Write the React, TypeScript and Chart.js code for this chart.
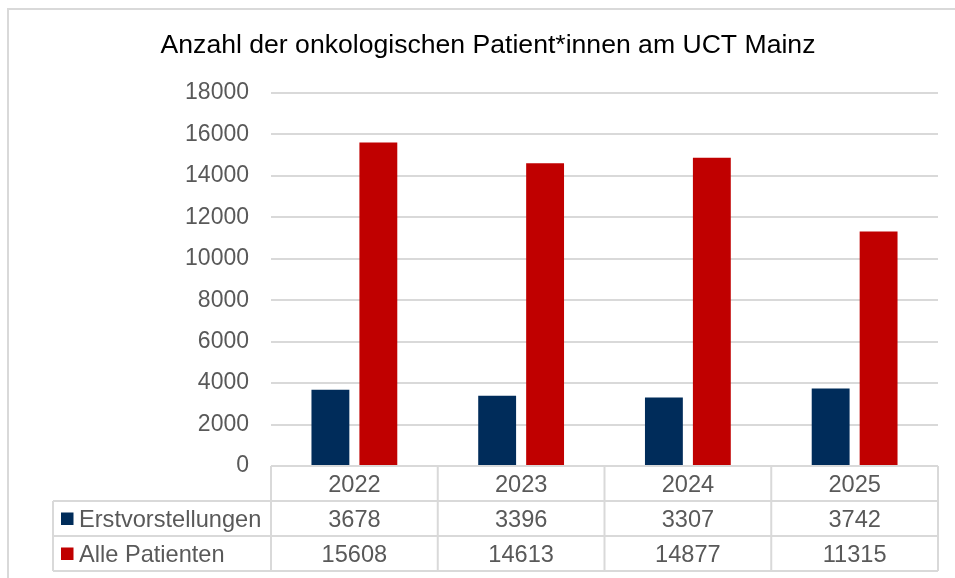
import React, { useEffect, useRef } from "react";
import { Chart, registerables } from "chart.js";

Chart.register(...registerables);

const title = "Anzahl der onkologischen Patient*innen am UCT Mainz";
const categories = ["2022", "2023", "2024", "2025"];
const seriesNames = ["Erstvorstellungen", "Alle Patienten"];
const erstvorstellungen = [3678, 3396, 3307, 3742];
const allePatienten = [15608, 14613, 14877, 11315];
const seriesColors = ["#002c5a", "#c00000"];
const yMax = 18000;
const yStep = 2000;

const FONT = '"Liberation Sans", Arial, sans-serif';
const GRID = "#d9d9d9";
const TEXT = "#595959";

const tablePlugin = {
  id: "dataTable",
  afterDraw(chart: any) {
    const ctx = chart.ctx as CanvasRenderingContext2D;
    const area = chart.chartArea;
    const xs = chart.scales.x;
    const n = categories.length;
    const cw = (area.right - area.left) / n;
    const rowH = 35;
    const top = area.bottom;
    const r1 = top + rowH;
    const r2 = r1 + rowH;
    const bottom = r2 + rowH;
    const labelLeft = 53;

    ctx.save();
    // outer border
    ctx.strokeStyle = GRID;
    ctx.lineWidth = 2;
    ctx.strokeRect(8, 9, 1200, 1200);

    // title
    ctx.fillStyle = "#000000";
    ctx.font = `26.6px ${FONT}`;
    ctx.textAlign = "center";
    ctx.textBaseline = "alphabetic";
    ctx.fillText(title, 488, 53);

    // table lines
    ctx.strokeStyle = GRID;
    ctx.lineWidth = 2;
    ctx.beginPath();
    ctx.moveTo(area.left, top);
    ctx.lineTo(area.right, top);
    [r1, r2, bottom].forEach((y) => {
      ctx.moveTo(labelLeft, y);
      ctx.lineTo(area.right, y);
    });
    for (let i = 0; i <= n; i++) {
      const x = area.left + i * cw;
      ctx.moveTo(x, top);
      ctx.lineTo(x, bottom);
    }
    ctx.moveTo(labelLeft, r1);
    ctx.lineTo(labelLeft, bottom);
    ctx.stroke();

    // texts
    ctx.fillStyle = TEXT;
    ctx.font = `23.6px ${FONT}`;
    ctx.textAlign = "center";
    const capOff = 8.4;
    const rows = [erstvorstellungen, allePatienten];
    categories.forEach((c, i) => {
      const cx = xs.getPixelForValue(i);
      ctx.fillText(c, cx, top + rowH / 2 + capOff);
      rows.forEach((vals, r) => {
        ctx.fillText(String(vals[i]), cx, r1 + r * rowH + rowH / 2 + capOff);
      });
    });

    // series labels with legend keys
    ctx.textAlign = "left";
    seriesNames.forEach((name, r) => {
      const cy = r1 + r * rowH + rowH / 2;
      ctx.fillStyle = seriesColors[r];
      ctx.fillRect(61, cy - 6, 12.5, 12.5);
      ctx.fillStyle = TEXT;
      ctx.fillText(name, 79, cy + capOff);
    });
    ctx.restore();
  },
};

export default function App() {
  const ref = useRef<HTMLCanvasElement>(null);

  useEffect(() => {
    if (!ref.current) return;
    const chart = new Chart(ref.current, {
      type: "bar",
      data: {
        labels: categories,
        datasets: [
          {
            label: seriesNames[0],
            data: erstvorstellungen,
            backgroundColor: seriesColors[0],
            categoryPercentage: 0.575,
            barPercentage: 0.79,
          },
          {
            label: seriesNames[1],
            data: allePatienten,
            backgroundColor: seriesColors[1],
            categoryPercentage: 0.575,
            barPercentage: 0.79,
          },
        ],
      },
      options: {
        responsive: false,
        animation: false,
        devicePixelRatio: 1,
        layout: {
          autoPadding: false,
          padding: { top: 93, bottom: 112, left: 0, right: 17 },
        },
        plugins: {
          legend: { display: false },
          title: { display: false },
          tooltip: { enabled: false },
        },
        scales: {
          x: { display: false },
          y: {
            min: 0,
            max: yMax,
            afterFit(scale: any) {
              scale.width = 271;
            },
            border: { display: false },
            grid: { color: GRID, lineWidth: 2, drawTicks: false },
            ticks: {
              stepSize: yStep,
              padding: 22,
              color: TEXT,
              font: { family: FONT, size: 23 },
              callback: (v: any) => String(v),
            },
          },
        },
      },
      plugins: [tablePlugin],
    } as any);
    return () => chart.destroy();
  }, []);

  return (
    <div style={{ position: "fixed", left: 0, top: 0, width: 955, height: 578, background: "#fff" }}>
      <canvas ref={ref} width={955} height={578} style={{ display: "block" }} />
    </div>
  );
}
